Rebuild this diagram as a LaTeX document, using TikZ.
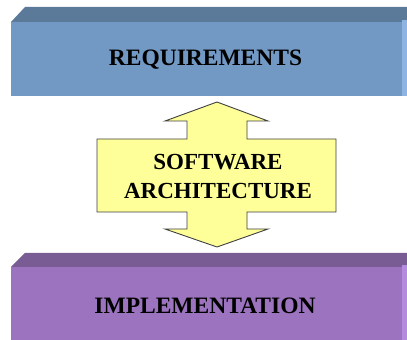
\documentclass[tikz,border=0pt]{standalone}
\usepackage{fontspec}
\setmainfont{Liberation Serif}
\definecolor{reqfront}{HTML}{7298C4}
\definecolor{reqtop}{HTML}{5B7A99}
\definecolor{reqside}{HTML}{8DB4E2}
\definecolor{impfront}{HTML}{9B73BE}
\definecolor{imptop}{HTML}{7A5C94}
\definecolor{impside}{HTML}{B58BE0}
\definecolor{archfill}{HTML}{FFFF99}
\definecolor{archline}{HTML}{404040}
\tikzset{
  lbl/.style={font=\fontsize{23.5}{28}\selectfont\bfseries, text=black, align=center, inner sep=0pt},
  archshape/.style={fill=archfill, draw=archline, line width=0.9pt, line join=miter}
}
\begin{document}
\begin{tikzpicture}[x=1pt,y=1pt]
\useasboundingbox (0,0) rectangle (407,340);
\fill[white] (0,0) rectangle (407,340);
% requirements block
\fill[reqtop] (11,318) -- (25,333) -- (407,333) -- (407,318) -- cycle;
\fill[reqside] (402,244) rectangle (407,320);
\fill[reqfront] (11,244) rectangle (402,318);
\node[lbl] (req) at (205.5,280.5) {REQUIREMENTS};
% implementation block
\fill[imptop] (11,73) -- (25,87) -- (407,87) -- (407,73) -- cycle;
\fill[impside] (402,0) rectangle (407,75);
\fill[impfront] (11,0) rectangle (402,73);
\node[lbl] (impl) at (205,34.5) {IMPLEMENTATION};
% double arrow
\draw[archshape] (217,238) -- (268,219) -- (247,219) -- (247,201) -- (336,201)
  -- (336,128) -- (247,128) -- (247,111) -- (268,111) -- (217,93)
  -- (165,111) -- (187,111) -- (187,128) -- (97,128) -- (97,201)
  -- (187,201) -- (187,219) -- (165,219) -- cycle;
\node[lbl, font=\fontsize{23}{28}\selectfont\bfseries] (arch) at (218,163.5) {SOFTWARE\\ARCHITECTURE};
\end{tikzpicture}
\end{document}
